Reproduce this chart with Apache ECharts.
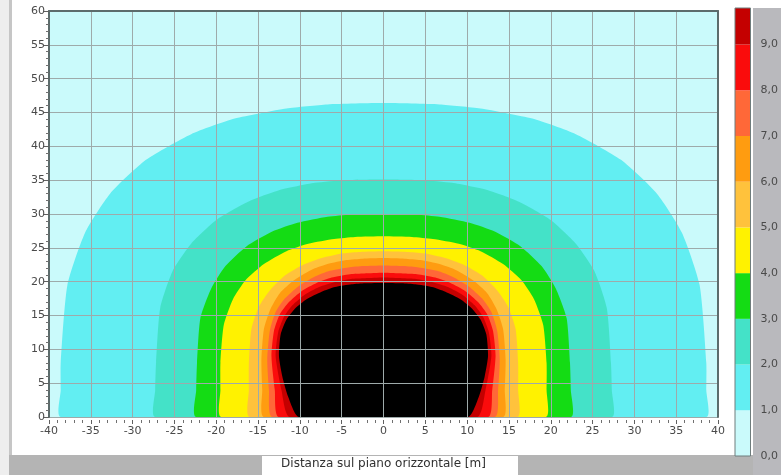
<!DOCTYPE html>
<html>
<head>
<meta charset="utf-8">
<script src="https://cdn.jsdelivr.net/npm/echarts@6/dist/echarts.min.js"></script>
<style>
  html, body { margin: 0; padding: 0; background: #ffffff; }
  #chart { width: 781px; height: 475px; }
</style>
</head>
<body>
<div id="chart"></div>
<script>
// Iso-level boundaries of the field, as [half-width (m), height (m)],
// listed from the ground up to the crest of each lobe.
const edge1  = [[38.6,0],[38.6,4],[38.6,8],[37.8,19.5],[35.7,27.2],[32.7,33.0],[28.4,38.0],[23.0,41.8],[17.8,44.1],[11.6,45.6],[6.7,46.2],[0,46.4]];
const edge2  = [[27.3,0],[27.3,4],[27.2,8],[26.7,16.1],[25.2,21.6],[23.0,25.6],[20.0,29.1],[16.2,31.8],[12.5,33.5],[8.2,34.6],[4.7,35.0],[0,35.1]];
const edge3  = [[22.4,0],[22.4,4],[22.3,8],[21.9,14.6],[20.6,19.0],[18.9,22.3],[16.4,25.2],[13.3,27.4],[10.3,28.7],[6.7,29.6],[3.9,29.9],[0,30.0]];
const edge4  = [[19.4,0],[19.5,4],[19.5,8],[19.1,13.6],[18.0,17.4],[16.5,20.2],[14.3,22.6],[11.6,24.5],[9.0,25.6],[5.9,26.3],[3.4,26.6],[0,26.7]];
const edge5  = [[16.0,0],[16.1,4],[16.1,8],[15.8,13.0],[14.9,16.3],[13.6,18.7],[11.8,20.9],[9.6,22.5],[7.4,23.5],[4.8,24.2],[2.8,24.4],[0,24.5]];
const edge6  = [[14.3,0],[14.5,4],[14.6,8.5],[14.3,13.0],[13.5,16.0],[12.4,18.3],[10.7,20.2],[8.7,21.7],[6.7,22.6],[4.4,23.2],[2.5,23.4],[0,23.5]];
const edge7  = [[13.3,0],[13.7,4],[13.9,8.5],[13.6,12.7],[12.9,15.5],[11.8,17.5],[10.2,19.3],[8.3,20.7],[6.4,21.6],[4.2,22.1],[2.4,22.3],[0,22.4]];
const edge8  = [[12.5,0],[13.0,4],[13.4,9],[13.1,12.7],[12.4,15.2],[11.3,17.0],[9.8,18.6],[8.0,19.8],[6.2,20.6],[4.0,21.1],[2.3,21.2],[0,21.3]];
const edge9  = [[11.2,0],[12.2,4],[12.9,9],[12.6,12.5],[11.9,14.8],[10.9,16.5],[9.5,18.0],[7.7,19.2],[5.9,19.9],[3.9,20.4],[2.2,20.5],[0,20.6]];
const edge10 = [[10.1,0],[11.4,3],[12.1,6],[12.5,9],[12.3,12.2],[11.6,14.4],[10.6,16.0],[9.2,17.4],[7.4,18.5],[5.8,19.2],[3.8,19.6],[2.2,19.75],[0,19.8]];

// Level reached inside each boundary
const levelValues = [1, 2, 3, 4, 5, 6, 7, 8, 9, 10];
const levelEdges = [edge1, edge2, edge3, edge4, edge5, edge6, edge7, edge8, edge9, edge10];

// Colour scale bands (lower and upper value of each band)
const bandLow  = [0, 1, 2, 3, 4, 5, 6, 7, 8, 9];
const bandHigh = [1, 2, 3, 4, 5, 6, 7, 8, 9, 10];

// Palette: index = field level (0 = background, 10 = above scale)
const palette = ['#cafafb', '#62eef2', '#44e2c8', '#14dc14', '#fff200', '#ffc23c', '#ff9c10', '#ff6838', '#fa0c0c', '#c40000', '#000000'];

const chart = echarts.init(document.getElementById('chart'), null, { renderer: 'canvas' });

const axisFont = { fontFamily: 'DejaVu Sans', fontSize: 11, color: '#4a4a4a' };
const frameColor = '#5c6c6c';
const gridLineColor = '#9eaaaa';

function renderLevel(params, api) {
  const edge = levelEdges[params.dataIndex];
  const leftSide = edge.map(p => api.coord([-p[0], p[1]]));
  const rightSide = edge.slice(0, -1).reverse().map(p => api.coord([p[0], p[1]]));
  const cs = params.coordSys;
  return {
    type: 'group',
    clipPath: { type: 'rect', shape: { x: cs.x, y: cs.y, width: cs.width, height: cs.height } },
    children: [{
      type: 'polygon',
      shape: { points: leftSide.concat(rightSide), smooth: 0.2 },
      style: { fill: palette[levelValues[params.dataIndex]] }
    }]
  };
}

const colorbarSeries = bandLow.map((lo, i) => ({
  type: 'bar',
  xAxisIndex: 2,
  yAxisIndex: 2,
  stack: 'scale',
  silent: true,
  barWidth: '100%',
  data: [bandHigh[i] - lo],
  itemStyle: { color: palette[i] }
}));

chart.setOption({
  animation: false,
  backgroundColor: '#ffffff',
  graphic: {
    elements: [
      { type: 'rect', z: -10, shape: { x: 0, y: 0, width: 9, height: 475 }, style: { fill: '#eeeeee' } },
      { type: 'rect', z: -10, shape: { x: 9, y: 0, width: 3, height: 475 }, style: { fill: '#c6c6c6' } },
      { type: 'rect', z: -10, shape: { x: 9, y: 455, width: 772, height: 20 }, style: { fill: '#b4b4b4' } },
      { type: 'rect', z: -10, shape: { x: 753, y: 8, width: 28, height: 467 }, style: { fill: '#b9b9bd' } },
      { type: 'rect', z: -9, shape: { x: 262, y: 456, width: 256, height: 19 }, style: { fill: '#ffffff' } }
    ]
  },
  grid: [
    { left: 49, right: 63, top: 11, bottom: 52, show: true, backgroundColor: palette[0], borderWidth: 0 },
    { left: 735, width: 17, top: 8, bottom: 19, show: true, z: 6, backgroundColor: 'transparent', borderColor: '#6e7c7c', borderWidth: 1 }
  ],
  xAxis: [
    {
      gridIndex: 0, type: 'value', min: -40, max: 40, interval: 5, position: 'bottom', offset: 3, z: 5,
      axisLine: { show: false, onZero: false },
      axisTick: { show: true, length: 4, lineStyle: { color: '#606060' } },
      minorTick: { show: true, splitNumber: 5, length: 3, lineStyle: { color: '#707070' } },
      splitLine: { show: true, lineStyle: { color: gridLineColor, width: 1 } },
      axisLabel: Object.assign({ margin: 6 }, axisFont),
      name: 'Distanza sul piano orizzontale [m]', nameLocation: 'middle', nameGap: 38,
      nameTextStyle: { fontFamily: 'DejaVu Sans', fontSize: 12, color: '#303030' }
    },
    {
      gridIndex: 0, type: 'value', min: -40, max: 40, position: 'top', z: 5,
      axisLine: { show: true, onZero: false, lineStyle: { color: frameColor, width: 2 } },
      axisTick: { show: false }, axisLabel: { show: false }, splitLine: { show: false }
    },
    {
      gridIndex: 1, type: 'category', data: ['scala'], show: false
    }
  ],
  yAxis: [
    {
      gridIndex: 0, type: 'value', min: 0, max: 60, interval: 5, position: 'left', z: 5,
      axisLine: { show: true, onZero: false, lineStyle: { color: frameColor, width: 2 } },
      axisTick: { show: true, length: 5, lineStyle: { color: '#606060' } },
      minorTick: { show: true, splitNumber: 5, length: 3, lineStyle: { color: '#707070' } },
      splitLine: { show: true, lineStyle: { color: gridLineColor, width: 1 } },
      axisLabel: Object.assign({ margin: 4 }, axisFont)
    },
    {
      gridIndex: 0, type: 'value', min: 0, max: 60, position: 'right', z: 5,
      axisLine: { show: true, onZero: false, lineStyle: { color: frameColor, width: 2 } },
      axisTick: { show: false }, axisLabel: { show: false }, splitLine: { show: false }
    },
    {
      gridIndex: 1, type: 'value', min: 0, max: 9.8, interval: 1, position: 'right', z: 7,
      axisLine: { show: false }, axisTick: { show: false }, splitLine: { show: false },
      axisLabel: Object.assign({ margin: 10, formatter: v => v.toFixed(1).replace('.', ','), showMaxLabel: false }, axisFont)
    }
  ],
  series: [
    {
      type: 'custom',
      xAxisIndex: 0,
      yAxisIndex: 0,
      z: 2,
      silent: true,
      renderItem: renderLevel,
      data: levelValues.map(v => [0, 0, v])
    }
  ].concat(colorbarSeries)
});
</script>
</body>
</html>
